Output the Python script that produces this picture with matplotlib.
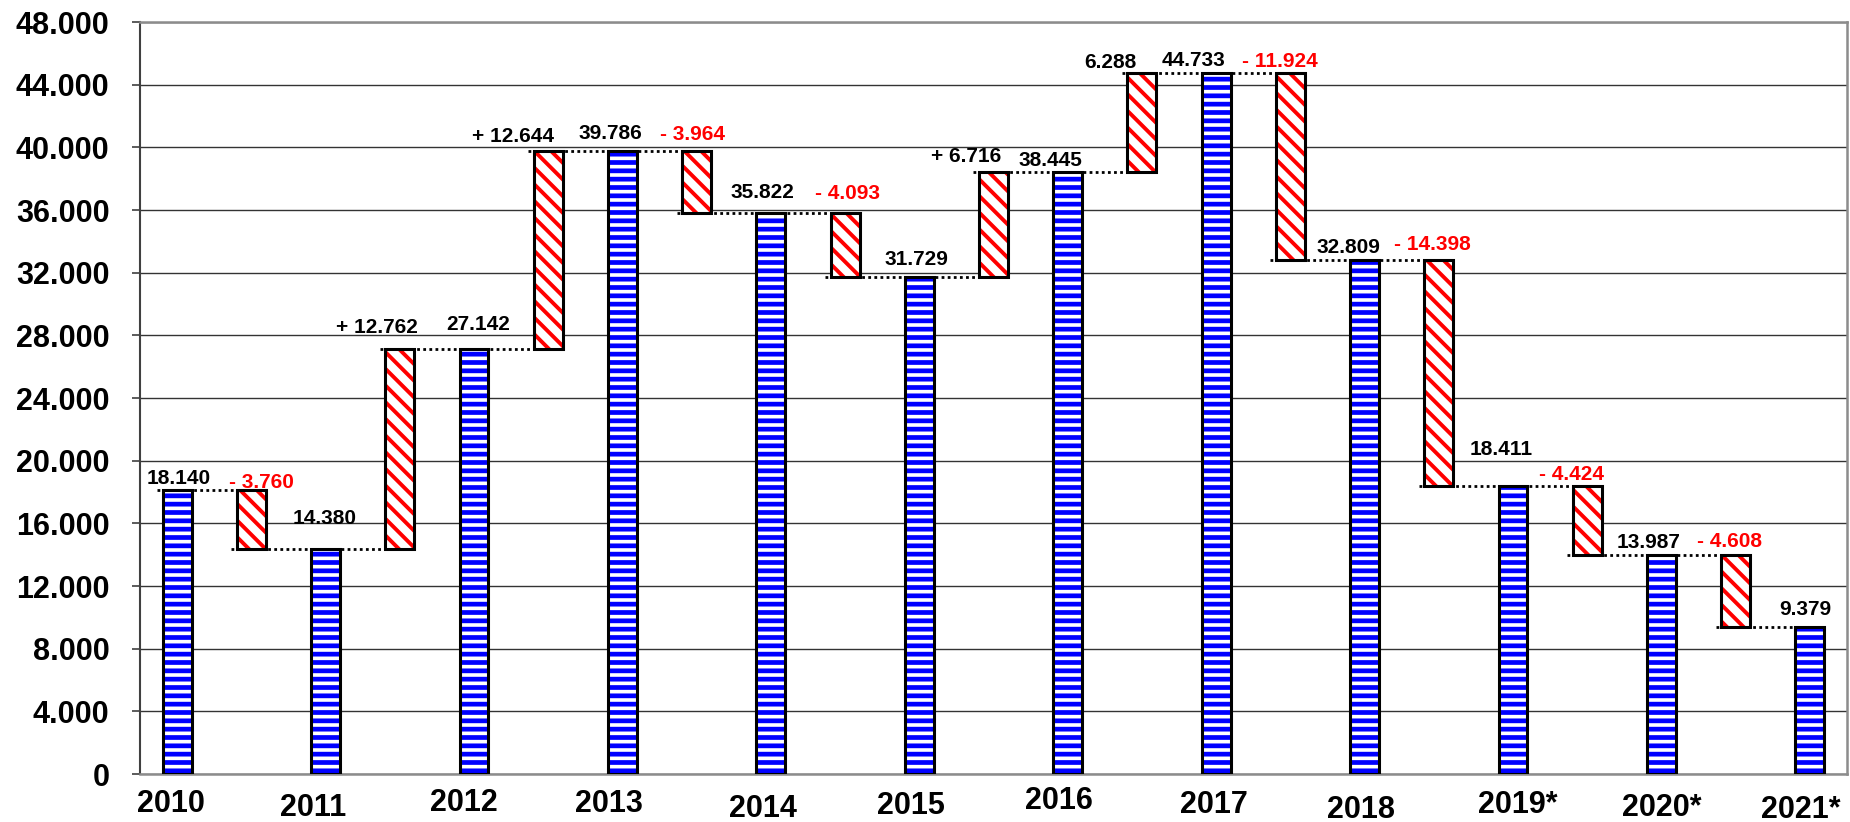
import numpy as np
import matplotlib
matplotlib.use("Agg")
import matplotlib.pyplot as plt
from matplotlib.ticker import FuncFormatter

# data
years = ['2010', '2011', '2012', '2013', '2014', '2015', '2016', '2017',
         '2018', '2019*', '2020*', '2021*']
totals = [18140, 14380, 27142, 39786, 35822, 31729, 38445, 44733,
          32809, 18411, 13987, 9379]
changes = [-3760, 12762, 12644, -3964, -4093, 6716, 6288, -11924,
           -14398, -4424, -4608]
change_labels = ['- 3.760', '+ 12.762', '+ 12.644', '- 3.964', '- 4.093',
                 '+ 6.716', '6.288', '- 11.924', '- 14.398', '- 4.424',
                 '- 4.608']

# hand placement of the labels (pixels: dx, height above bar top)
total_off = [(2, 6), (-1, 25), (4, 19), (-12, 12), (-8, 15), (-3, 12),
             (-17, 6), (-23, 7), (-16, 7), (-12, 31), (-13, 7), (-5, 12)]
change_off = [(10, 2), (-23, 16), (-35, 9), (-4, 11), (2, 14), (-27, 10),
              (-32, 5), (-10, 6), (-6, 10), (-16, 6), (-6, 8)]
year_off = [(-6, 38), (-12, 42), (-10, 37), (-13, 38), (-8, 43), (-8, 40),
            (-9, 35), (-2, 39), (-4, 44), (5, 39), (0, 42), (-9, 44)]

plt.rcParams['font.family'] = ['Liberation Sans', 'DejaVu Sans']
plt.rcParams['font.weight'] = 'bold'
plt.rcParams['hatch.linewidth'] = 3.4

PX = 0.72  # points per pixel at dpi 100

fig = plt.figure(figsize=(18.5, 8.22), dpi=100)
ax = fig.add_axes([140 / 1850, 48 / 822, 1707 / 1850, 752 / 822])

totals = np.array(totals)
changes = np.array(changes)
x_tot = np.arange(0, 2 * len(totals), 2)
x_chg = x_tot[:-1] + 1
w = 0.39

chg_bottom = np.minimum(totals[:-1], totals[:-1] + changes)
chg_height = np.abs(changes)

# striped year totals
ax.bar(x_tot, totals, width=w, color='white', edgecolor='#0000ff',
       hatch='--', lw=0, zorder=3)
ax.bar(x_tot, totals, width=w, fill=False, edgecolor='black', lw=2.2, zorder=3.5)
# hatched changes (slightly thinner stripes)
with plt.rc_context({'hatch.linewidth': 2.8}):
    ax.bar(x_chg, chg_height, bottom=chg_bottom, width=w, color='white',
           edgecolor='#ff0000', hatch='\\\\', lw=0, zorder=3)
ax.bar(x_chg, chg_height, bottom=chg_bottom, width=w, fill=False,
       edgecolor='black', lw=2.2, zorder=3.5)

# dotted connectors
last = x_tot[-1]
for k, v in zip(x_tot, totals):
    x0 = k - 1 - 0.27 if k > 0 else k - 0.27
    x1 = k + 1 + 0.2 if k < last else k
    ax.plot([x0, x1], [v, v], color='black', lw=2, ls=(0, (1, 1.2)), zorder=4)

# value labels
for k, v, (dx, dy) in zip(x_tot, totals, total_off):
    ax.annotate(f'{v:,}'.replace(',', '.'), (k, v), xytext=(dx * PX, dy * PX),
                textcoords='offset points', ha='center', va='baseline',
                fontsize=15, fontweight='bold', color='black', zorder=5)
for k, b, h, c, txt, (dx, dy) in zip(x_chg, chg_bottom, chg_height, changes,
                                     change_labels, change_off):
    ax.annotate(txt, (k, b + h), xytext=(dx * PX, dy * PX),
                textcoords='offset points', ha='center', va='baseline',
                fontsize=15, fontweight='bold',
                color='#ff0000' if c < 0 else 'black', zorder=5)

# year labels, staggered like the original
for k, yr, (dx, dy) in zip(x_tot, years, year_off):
    ax.annotate(yr, (k, 0), xycoords=('data', 'axes fraction'),
                xytext=(dx * PX, -dy * PX), textcoords='offset points',
                ha='center', va='baseline', fontsize=22, fontweight='bold',
                annotation_clip=False)

ax.set_xlim(-0.5, 22.5)
ax.set_ylim(0, 48000)
ax.set_yticks(np.arange(0, 48001, 4000))
ax.yaxis.set_major_formatter(FuncFormatter(lambda v, p: f'{v:,.0f}'.replace(',', '.')))
ax.set_xticks([])
ax.tick_params(axis='y', length=6, width=1.2, color='#404040', pad=16,
               labelsize=22)
for lab in ax.get_yticklabels():
    lab.set_fontweight('bold')

ax.yaxis.grid(True, color='#333333', lw=1.0)
ax.set_axisbelow(True)
ax.spines['left'].set_color('#404040')
ax.spines['left'].set_linewidth(1.5)
for s in ['top', 'right', 'bottom']:
    ax.spines[s].set_color('#8c8c8c')
    ax.spines[s].set_linewidth(1.8)

fig.savefig('out.png', dpi=100)
